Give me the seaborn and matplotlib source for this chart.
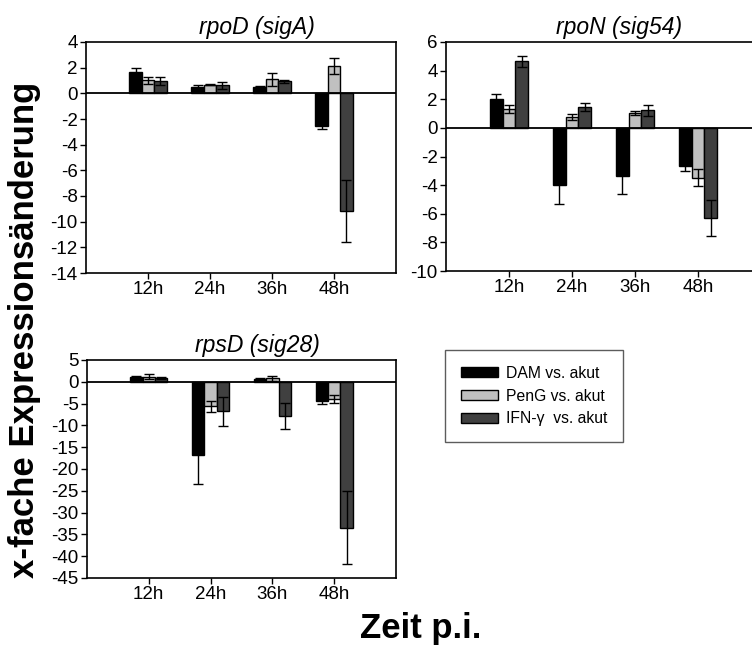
import numpy as np
import pandas as pd
import matplotlib
matplotlib.use("Agg")
import matplotlib.pyplot as plt
from matplotlib.patches import Patch
import seaborn as sns

# Time points and comparison groups
times = ["12h", "24h", "36h", "48h"]
groups = ["DAM vs. akut", "PenG vs. akut", "IFN-\u03b3  vs. akut"]

# rpoD (sigA): fold change and error
rpoD_dam = [1.68, 0.47, 0.52, -2.58]
rpoD_dam_err = [0.33, 0.18, 0.05, 0.23]
rpoD_peng = [1.03, 0.67, 1.11, 2.14]
rpoD_peng_err = [0.28, 0.05, 0.50, 0.65]
rpoD_ifn = [0.98, 0.62, 0.93, -9.15]
rpoD_ifn_err = [0.32, 0.28, 0.10, 2.43]

# rpoN (sig54)
rpoN_dam = [2.04, -4.02, -3.37, -2.67]
rpoN_dam_err = [0.30, 1.33, 1.23, 0.35]
rpoN_peng = [1.34, 0.76, 1.03, -3.48]
rpoN_peng_err = [0.29, 0.20, 0.12, 0.60]
rpoN_ifn = [4.65, 1.46, 1.22, -6.28]
rpoN_ifn_err = [0.40, 0.25, 0.40, 1.25]

# rpsD (sig28)
rpsD_dam = [1.1, -16.7, 0.6, -4.3]
rpsD_dam_err = [0.3, 6.7, 0.2, 0.9]
rpsD_peng = [1.2, -5.6, 0.8, -3.9]
rpsD_peng_err = [0.6, 1.3, 0.6, 0.9]
rpsD_ifn = [0.8, -6.8, -7.8, -33.5]
rpsD_ifn_err = [0.2, 3.4, 3.0, 8.4]

colors = ["#000000", "#c0c0c0", "#404040"]

sns.set_style("ticks")
plt.rcParams["font.family"] = ["Liberation Sans", "DejaVu Sans"]
plt.rcParams["axes.linewidth"] = 1.2
plt.rcParams["axes.unicode_minus"] = False
plt.rcParams["text.color"] = "black"
plt.rcParams["axes.labelcolor"] = "black"
plt.rcParams["xtick.color"] = "black"
plt.rcParams["ytick.color"] = "black"

W, H = 752, 648
fig = plt.figure(figsize=(W / 100, H / 100), dpi=100)


def px_axes(left, right, top, bottom):
    return fig.add_axes([left / W, 1 - bottom / H, (right - left) / W, (bottom - top) / H])


def panel(ax, title, vals, errs, ylim, yticks):
    df = pd.DataFrame({
        "time": np.repeat(times, len(groups)),
        "group": groups * len(times),
        "value": [vals[g][t] for t in range(len(times)) for g in range(len(groups))],
    })
    sns.barplot(data=df, x="time", y="value", hue="group", order=times,
                hue_order=groups, palette=colors, errorbar=None, width=0.6,
                edgecolor="black", linewidth=1.0, ax=ax, legend=False, zorder=2)
    # error bars centred on each drawn bar
    for cont, err in zip(ax.containers, errs):
        xs = [b.get_x() + b.get_width() / 2 for b in cont]
        ys = list(cont.datavalues)
        ax.errorbar(xs, ys, yerr=err, fmt="none", ecolor="black",
                    elinewidth=1.0, capsize=3.5, capthick=1.0, zorder=3)
    ax.axhline(0, color="black", lw=1.3, zorder=4)
    ax.set_xlim(-1, 4)
    ax.set_ylim(*ylim)
    ax.set_yticks(yticks)
    ax.set_xticks(range(len(times)))
    ax.set_xticklabels(times)
    ax.set_xlabel("")
    ax.set_ylabel("")
    for s in ax.spines.values():
        s.set_visible(True)
        s.set_color("black")
    ax.tick_params(direction="out", length=4, width=1, labelsize=13.5,
                   colors="black", pad=2)
    ax.set_title(title, x=0.55, pad=6, fontsize=16.5, style="italic")


ax1 = px_axes(86, 396, 42, 273)
panel(ax1, "rpoD (sigA)", [rpoD_dam, rpoD_peng, rpoD_ifn],
      [rpoD_dam_err, rpoD_peng_err, rpoD_ifn_err], (-14, 4), range(-14, 5, 2))

ax2 = px_axes(446, 761, 42, 271)
panel(ax2, "rpoN (sig54)", [rpoN_dam, rpoN_peng, rpoN_ifn],
      [rpoN_dam_err, rpoN_peng_err, rpoN_ifn_err], (-10, 6), range(-10, 7, 2))

ax3 = px_axes(87, 396, 360, 578)
panel(ax3, "rpsD (sig28)", [rpsD_dam, rpsD_peng, rpsD_ifn],
      [rpsD_dam_err, rpsD_peng_err, rpsD_ifn_err], (-45, 5), range(-45, 6, 5))

handles = [Patch(facecolor=c, edgecolor="black", linewidth=1.0) for c in colors]
leg = fig.legend(handles, groups, loc="upper left",
                 bbox_to_anchor=(445 / W, 1 - 350 / H), fontsize=11.3,
                 frameon=True, fancybox=False, edgecolor="#333333",
                 handlelength=2.4, handleheight=0.65, labelspacing=0.5,
                 handletextpad=0.5, borderpad=1.0, borderaxespad=0)
leg.get_frame().set_linewidth(1.0)

fig.text(25 / W, 1 - 330 / H, "x-fache Expressions\u00e4nderung", rotation=90,
         ha="center", va="center", fontsize=25, fontweight="bold")
fig.text(421 / W, 1 - 638 / H, "Zeit p.i.", ha="center", va="baseline",
         fontsize=25, fontweight="bold")

fig.savefig("out.png", dpi=100)
